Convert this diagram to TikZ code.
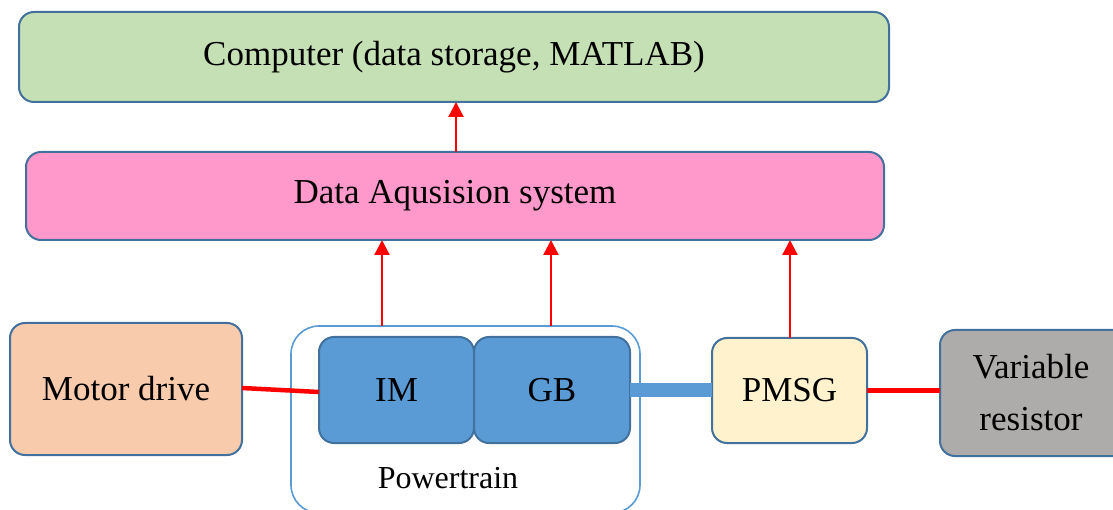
\documentclass[tikz,border=0pt]{standalone}
\usepackage{fontspec}
\setmainfont{Liberation Serif}
\usetikzlibrary{arrows.meta}

\definecolor{edgeblue}{HTML}{41719C}
\definecolor{lightblue}{HTML}{5B9BD5}
\definecolor{pcgreen}{HTML}{C5E0B4}
\definecolor{daqpink}{HTML}{FF99CC}
\definecolor{drivepeach}{HTML}{F8CBAD}
\definecolor{genyellow}{HTML}{FFF2CC}
\definecolor{resgray}{HTML}{AEABAB}
\definecolor{sigred}{HTML}{FF0000}

\tikzset{
  block/.style={draw=edgeblue, line width=2pt, rounded corners=15pt,
    anchor=north west, inner sep=0pt, outer sep=0pt, align=center,
    font=\fontsize{35}{42}\selectfont},
  groupbox/.style={draw=lightblue, line width=1.6pt, rounded corners=28pt,
    fill=white, anchor=north west, inner sep=0pt, outer sep=0pt},
  signal/.style={draw=sigred, line width=2.4pt,
    -{Triangle[length=15pt,width=15pt]}},
  power/.style={draw=sigred, line width=4.5pt},
  shaft/.style={draw=lightblue, line width=14pt},
}

\begin{document}
\begin{tikzpicture}[x=1pt,y=-1pt]
\clip (0,0) rectangle (1113,510);
\fill[white] (0,0) rectangle (1113,510);

% top level: storage and acquisition
\node[block, fill=pcgreen, minimum width=870pt, minimum height=90pt]
  (pc) at (19,12) {Computer (data storage, MATLAB)};
\node[block, fill=daqpink, minimum width=858pt, minimum height=88pt]
  (daq) at (26,152) {Data Aqusision system};

% powertrain group (its lower edge runs just past the page)
\node[groupbox, minimum width=349pt, minimum height=187pt]
  (pt) at (291,326) {};
\node[font=\fontsize{32}{38}\selectfont] (ptlabel) at (448,478) {Powertrain};

% machines
\node[block, fill=drivepeach, minimum width=232pt, minimum height=132pt]
  (drive) at (10,323) {Motor drive};
\node[block, fill=lightblue, minimum width=155pt, minimum height=106pt]
  (im) at (319,337) {IM};
\node[block, fill=lightblue, minimum width=156pt, minimum height=106pt]
  (gb) at (474,337) {GB};
\node[block, fill=genyellow, minimum width=155pt, minimum height=105pt]
  (pmsg) at (712,338) {PMSG};
\node[block, fill=resgray, minimum width=200pt, minimum height=126pt,
  text width=180pt]
  (res) at (940,330) {\hspace*{-18pt}Variable\\[10pt]\hspace*{-18pt}resistor};

% electrical and mechanical links
\draw[power] ([yshift=1pt]drive.east) -- ([yshift=-2pt]im.west);
\draw[shaft] (gb.east) -- (gb.east -| pmsg.west);
\draw[power] (pmsg.east) -- (pmsg.east -| res.west);

% measurement signals
\draw[signal] (pt.north -| 382,0) -- (daq.south -| 382,0);
\draw[signal] (pt.north -| 551,0) -- (daq.south -| 551,0);
\draw[signal] (pmsg.north -| 790,0) -- (daq.south -| 790,0);
\draw[signal] (daq.north -| 456,0) -- (pc.south -| 456,0);
\end{tikzpicture}
\end{document}
